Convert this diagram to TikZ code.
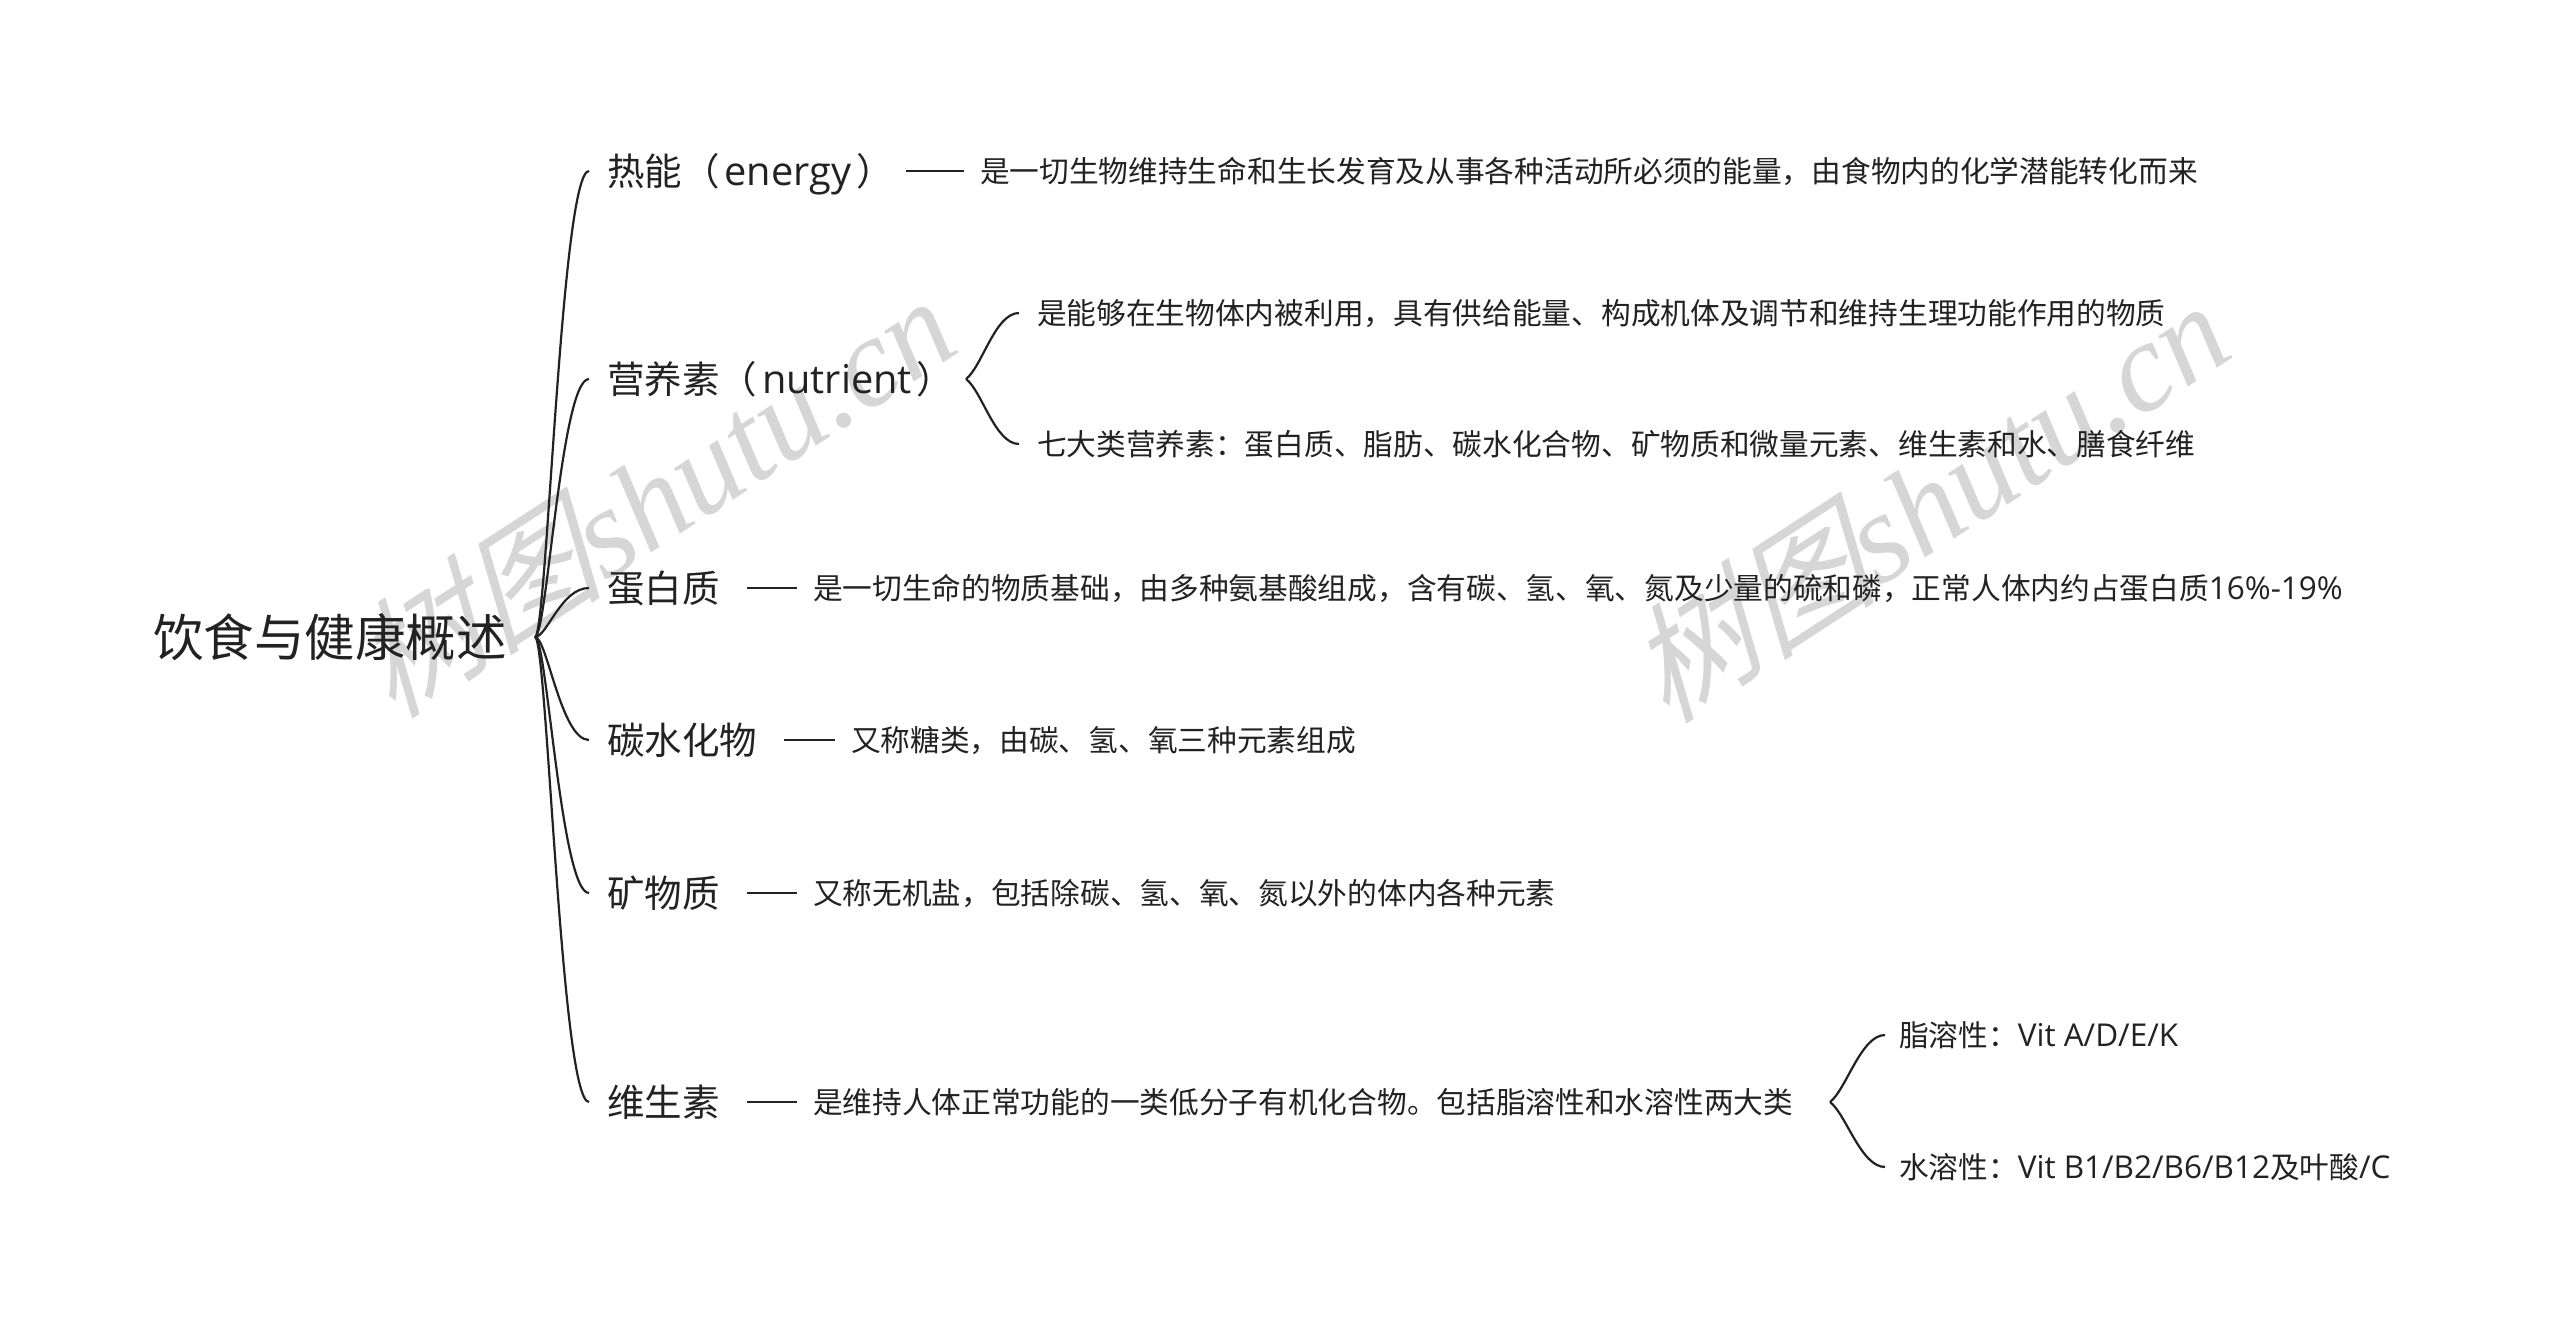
\documentclass[tikz,border=0pt]{standalone}
\usepackage{fontspec}
\setmainfont{Open Sans}
\newfontfamily\cjk{Noto Sans CJK SC}
\newfontfamily\lat[Scale=1.06]{Open Sans}
\newfontfamily\wmcjk[FakeSlant=0.3]{Noto Sans CJK SC}
\newfontfamily\wmlat{Liberation Serif}
\usetikzlibrary{calc}
\definecolor{ink}{HTML}{222222}
\definecolor{wmgray}{HTML}{D6D6D6}
\begin{document}
\begin{tikzpicture}[x=1pt,y=-1pt,
  rootnode/.style={anchor=west,inner sep=0pt,outer sep=0pt,text=ink,font=\fontsize{50.5pt}{60pt}\selectfont\cjk,text height=44.4pt,text depth=6.1pt},
  topic/.style={anchor=west,inner sep=0pt,outer sep=0pt,text=ink,font=\fontsize{37.5pt}{45pt}\selectfont\cjk,text height=33pt,text depth=4.5pt},
  detail/.style={anchor=west,inner sep=0pt,outer sep=0pt,text=ink,font=\fontsize{29.7pt}{36pt}\selectfont\cjk,text height=26.1pt,text depth=3.6pt},
  branch/.style={draw=ink,line width=2.2pt},
  dashline/.style={draw=ink,line width=2.2pt,shorten <=27pt,shorten >=16pt},
  wmtext/.style={text=wmgray,rotate=33,inner sep=0pt,font=\fontsize{127pt}{140pt}\selectfont}
]
\fill[white] (0,0) rectangle (2560,1329);
\useasboundingbox (0,0) rectangle (2560,1329);

% watermarks
\node[wmtext] (wm1) at (652,495) {{\wmcjk 树图}{\wmlat\itshape shutu.cn}};
\node[wmtext] (wm2) at (1926,500) {{\wmcjk 树图}{\wmlat\itshape shutu.cn}};

% root
\node[rootnode] (root) at (153,637) {饮食与健康概述};
\coordinate (v) at (535,637);

% topics
\node[topic] (t1) at (607,171) {热能（\kern5pt{\lat energy}\kern5pt）};
\node[topic] (t2) at (607,379) {营养素（\kern5pt{\lat nutrient}\kern5pt）};
\node[topic] (t3) at (607,588) {蛋白质};
\node[topic] (t4) at (607,740) {碳水化物};
\node[topic] (t5) at (607,893) {矿物质};
\node[topic] (t6) at (607,1102) {维生素};

\foreach \t in {t1,t2,t3,t4,t5,t6}{
  \draw[branch] (v) .. controls +(12,0) and +(-28,0) .. ([xshift=-18pt]\t.west);
}

% details
\node[detail] (d1) at (980,171) {是一切生物维持生命和生长发育及从事各种活动所必须的能量，由食物内的化学潜能转化而来};
\node[detail] (d2a) at (1037,313) {是能够在生物体内被利用，具有供给能量、构成机体及调节和维持生理功能作用的物质};
\node[detail] (d2b) at (1037,444) {七大类营养素：蛋白质、脂肪、碳水化合物、矿物质和微量元素、维生素和水、膳食纤维};
\node[detail] (d3) at (813,588) {是一切生命的物质基础，由多种氨基酸组成，含有碳、氢、氧、氮及少量的硫和磷，正常人体内约占蛋白质{\lat 16\%-19\%}};
\node[detail] (d4) at (851,740) {又称糖类，由碳、氢、氧三种元素组成};
\node[detail] (d5) at (813,893) {又称无机盐，包括除碳、氢、氧、氮以外的体内各种元素};
\node[detail] (d6) at (813,1102) {是维持人体正常功能的一类低分子有机化合物。包括脂溶性和水溶性两大类};
\node[detail] (d6a) at (1899,1035) {脂溶性：{\lat Vit A/D/E/K}};
\node[detail] (d6b) at (1899,1167) {水溶性：{\lat Vit B1/B2/B6/B12}及叶酸{\lat /C}};

% short connectors
\draw[dashline,shorten <=12pt] (t1.east) -- (d1.west);
\draw[dashline] (t3.east) -- (d3.west);
\draw[dashline] (t4.east) -- (d4.west);
\draw[dashline] (t5.east) -- (d5.west);
\draw[dashline] (t6.east) -- (d6.west);

% braces
\coordinate (b2) at (966,379);
\draw[branch] (b2) .. controls +(16,-12) and +(-24,0) .. ([xshift=-18pt]d2a.west);
\draw[branch] (b2) .. controls +(16,12) and +(-24,0) .. ([xshift=-18pt]d2b.west);
\coordinate (b6) at (1830,1102);
\draw[branch] (b6) .. controls +(16,-12) and +(-24,0) .. ([xshift=-14pt]d6a.west);
\draw[branch] (b6) .. controls +(16,12) and +(-24,0) .. ([xshift=-14pt]d6b.west);
\end{tikzpicture}
\end{document}
